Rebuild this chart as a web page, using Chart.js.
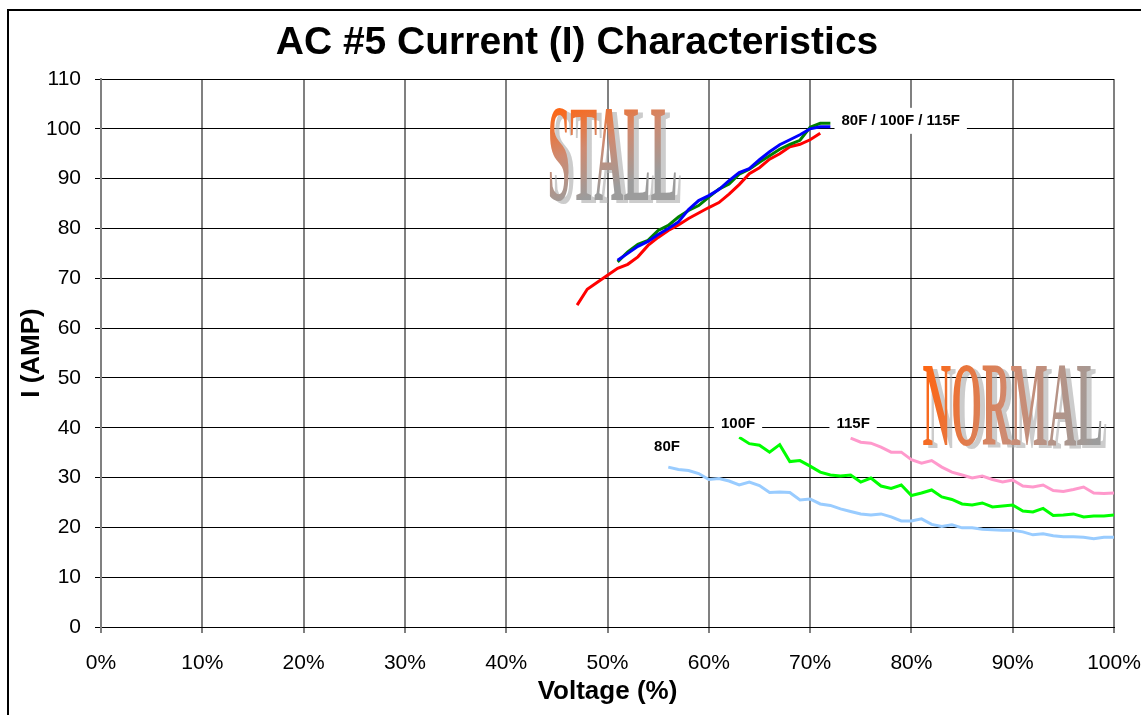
<!DOCTYPE html>
<html>
<head>
<meta charset="utf-8">
<script src="https://cdn.jsdelivr.net/npm/chart.js@4.4.1/dist/chart.umd.min.js"></script>
<style>
  html, body { margin: 0; padding: 0; background: #fff; }
</style>
</head>
<body>
<canvas id="chartMain" width="1141" height="715"></canvas>
<script>
/*********************************/
// AC #5 current characteristics  //
/*********************************/

// voltage (%) of the first point of each curve, points follow every 1%
const stallStart80 = 47;
const stallStart100 = 51;
const stallStart115 = 51;
const normalStart80 = 56;
const normalStart100 = 63;
const normalStart115 = 74;

// stall curves, I (AMP)
const stall80 = [64.6, 67.8, 69.2, 70.6, 72.0, 72.8, 74.3, 76.6, 78.2, 79.6,
  80.7, 82.0, 83.1, 84.2, 85.2, 86.9, 88.8, 91.0, 92.2, 93.9,
  95.0, 96.4, 96.9, 97.8, 99.1];
const stall100 = [73.6, 75.0, 76.4, 77.4, 78.8, 80.0, 81.3, 83.8, 85.6, 86.6,
  87.8, 89.6, 91.2, 92.0, 93.8, 95.4, 96.8, 97.8, 98.8, 100.0,
  100.4, 100.4];
const stall115 = [73.3, 75.3, 76.8, 77.6, 79.6, 80.6, 82.3, 83.6, 84.6, 86.3,
  87.9, 88.9, 90.9, 91.9, 93.3, 94.6, 95.9, 96.9, 97.7, 100.3,
  101.1, 101.1];

// normal curves, I (AMP)
const normal80 = [32.1, 31.6, 31.4, 30.8, 29.6, 29.8, 29.3, 28.5, 29.1, 28.4,
  27.0, 27.1, 27.0, 25.5, 25.7, 24.7, 24.4, 23.7, 23.2, 22.7,
  22.5, 22.7, 22.1, 21.3, 21.3, 21.7, 20.6, 20.2, 20.5, 19.9,
  19.9, 19.6, 19.5, 19.4, 19.4, 19.1, 18.5, 18.7, 18.3, 18.1,
  18.1, 18.0, 17.7, 18.0, 18.0];
const normal100 = [38.1, 36.8, 36.5, 35.1, 36.6, 33.2, 33.4, 32.3, 31.1, 30.5,
  30.3, 30.5, 29.1, 29.9, 28.3, 27.8, 28.5, 26.4, 26.9, 27.5,
  26.1, 25.6, 24.7, 24.5, 24.9, 24.1, 24.3, 24.5, 23.3, 23.1,
  23.8, 22.4, 22.5, 22.7, 22.1, 22.3, 22.3, 22.5];
const normal115 = [37.9, 37.1, 36.9, 36.1, 35.1, 35.1, 33.6, 32.9, 33.4, 32.1,
  31.1, 30.5, 29.9, 30.3, 29.6, 29.1, 29.5, 28.3, 28.1, 28.5,
  27.4, 27.2, 27.6, 28.1, 26.9, 26.8, 26.9];

// axes
const voltTicks = [0, 10, 20, 30, 40, 50, 60, 70, 80, 90, 100];
const ampTicks = [0, 10, 20, 30, 40, 50, 60, 70, 80, 90, 100, 110];

// text labels placed in data units (volt %, amp)
const curveLabels = [
  { text: '80F / 100F / 115F', x: 73.1, y: 101.6, box: true },
  { text: '100F', x: 61.2, y: 40.8, box: true },
  { text: '115F', x: 72.6, y: 40.8, box: true },
  { text: '80F', x: 54.6, y: 36.2, box: false }
];
// word art: box in data units, gradient direction in box fractions
const wordArt = [
  { text: 'STALL', x0: 44.1, x1: 56.9, y0: 103.8, y1: 85.7, gx: 0.25, gy: 1.0 },
  { text: 'NORMAL', x0: 81.1, x1: 98.9, y0: 52.6, y1: 36.5, gx: 1.0, gy: 0.45 }
];

function pts(start, amps) {
  return amps.map((a, i) => ({ x: start + i, y: a }));
}

function line(data, color) {
  return {
    data: data,
    borderColor: color,
    backgroundColor: color,
    borderWidth: 3,
    pointRadius: 0,
    tension: 0,
    fill: false
  };
}

const decor = {
  id: 'decor',
  beforeDraw(chart) {
    const c = chart.ctx;
    c.save();
    c.fillStyle = '#fff';
    c.fillRect(0, 0, chart.width, chart.height);
    c.restore();
  },
  beforeDatasetsDraw(chart) {
    const xs = chart.scales.x, ys = chart.scales.y, c = chart.ctx;
    wordArt.forEach(w => {
      const x0 = xs.getPixelForValue(w.x0), x1 = xs.getPixelForValue(w.x1);
      const y0 = ys.getPixelForValue(w.y0), y1 = ys.getPixelForValue(w.y1);
      c.save();
      c.font = 'bold 100px "Liberation Serif"';
      const m = c.measureText(w.text);
      const asc = m.actualBoundingBoxAscent;
      const sx = (x1 - x0) / m.width, sy = (y1 - y0) / asc;
      // gradient wanted in screen space, mapped back into the scaled space
      const dx = (x1 - x0) * w.gx, dy = (y1 - y0) * w.gy;
      const ux = sx * dx, uy = sy * dy;
      const k = (dx * dx + dy * dy) / (ux * ux + uy * uy);
      c.translate(x0, y0);
      c.scale(sx, sy);
      const g = c.createLinearGradient(0, 0, ux * k, uy * k);
      g.addColorStop(0, '#ff6410');
      g.addColorStop(0.5, '#cf8a70');
      g.addColorStop(1, '#9c9c9c');
      c.fillStyle = g;
      c.shadowColor = 'rgba(170,170,170,0.6)';
      c.shadowOffsetX = 5;
      c.shadowOffsetY = 3;
      c.textBaseline = 'alphabetic';
      c.fillText(w.text, 0, asc);
      c.restore();
    });
  },
  afterDatasetsDraw(chart) {
    const xs = chart.scales.x, ys = chart.scales.y, c = chart.ctx;
    c.save();
    c.font = 'bold 15px "Liberation Sans", Arial, sans-serif';
    c.textBaseline = 'middle';
    curveLabels.forEach(l => {
      const x = xs.getPixelForValue(l.x), y = ys.getPixelForValue(l.y);
      const w = c.measureText(l.text).width;
      if (l.box) {
        c.fillStyle = '#fff';
        c.fillRect(x - 7, y - 13, w + 14, 26);
      }
      c.fillStyle = '#000';
      c.fillText(l.text, x, y);
    });
    c.restore();
  },
  afterDraw(chart) {
    const c = chart.ctx;
    c.save();
    // outer frame
    c.strokeStyle = '#000';
    c.lineWidth = 2;
    c.beginPath();
    c.moveTo(8, chart.height);
    c.lineTo(8, 10);
    c.lineTo(chart.width, 10);
    c.stroke();
    // title
    c.fillStyle = '#000';
    c.font = 'bold 39px "Liberation Sans", Arial, sans-serif';
    c.textAlign = 'center';
    c.textBaseline = 'middle';
    c.fillText('AC #5 Current (I) Characteristics', 577, 43);
    c.restore();
  }
};

var ctx = document.getElementById('chartMain');
var chartMain = new Chart(ctx, {
  type: 'line',
  data: {
    datasets: [
      line(pts(stallStart100, stall100), '#0000ff'),
      line(pts(stallStart115, stall115), '#008000'),
      line(pts(stallStart80, stall80), '#ff0000'),
      line(pts(normalStart80, normal80), '#99ccff'),
      line(pts(normalStart100, normal100), '#00ff00'),
      line(pts(normalStart115, normal115), '#ff99cc')
    ]
  },
  options: {
    responsive: false,
    animation: false,
    layout: { padding: { left: 0, top: 79, right: 27, bottom: 0 } },
    plugins: {
      legend: { display: false },
      tooltip: { enabled: false },
      title: { display: false }
    },
    scales: {
      x: {
        type: 'linear',
        min: 0,
        max: 100,
        afterBuildTicks: s => { s.ticks = voltTicks.map(v => ({ value: v })); },
        afterFit: s => { s.height = 88; s.paddingLeft = 0; s.paddingRight = 0; },
        ticks: {
          color: '#000',
          padding: 18,
          font: { family: '"Liberation Sans", Arial, sans-serif', size: 21 },
          callback: v => v + '%'
        },
        grid: { color: '#808080', lineWidth: 2, tickLength: 6 },
        border: { color: '#000', width: 1 },
        title: {
          display: true,
          text: 'Voltage (%)',
          color: '#000',
          padding: { top: 0, bottom: 8 },
          font: { family: '"Liberation Sans", Arial, sans-serif', size: 26, weight: 'bold' }
        }
      },
      y: {
        min: 0,
        max: 110,
        afterBuildTicks: s => { s.ticks = ampTicks.map(v => ({ value: v })); },
        afterFit: s => { s.width = 101; s.paddingTop = 0; s.paddingBottom = 0; },
        ticks: {
          color: '#000',
          padding: 14,
          font: { family: '"Liberation Sans", Arial, sans-serif', size: 21 }
        },
        grid: { color: '#000', lineWidth: 1, tickLength: 6 },
        border: { color: '#808080', width: 2 },
        title: {
          display: true,
          text: 'I (AMP)',
          color: '#000',
          padding: { top: 16, bottom: 0 },
          font: { family: '"Liberation Sans", Arial, sans-serif', size: 26, weight: 'bold' }
        }
      }
    }
  },
  plugins: [decor]
});
</script>
</body>
</html>
